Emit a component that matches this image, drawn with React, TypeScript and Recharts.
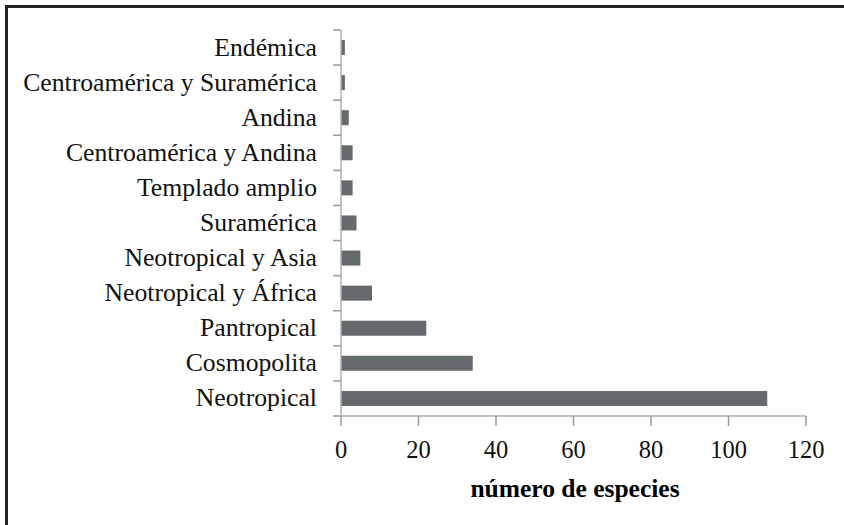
import React from "react";
import { BarChart, Bar, XAxis, YAxis, Label } from "recharts";

const categories = [
  "Endémica",
  "Centroamérica y Suramérica",
  "Andina",
  "Centroamérica y Andina",
  "Templado amplio",
  "Suramérica",
  "Neotropical y Asia",
  "Neotropical y África",
  "Pantropical",
  "Cosmopolita",
  "Neotropical",
];
const especies = [1, 1, 2, 3, 3, 4, 5, 8, 22, 34, 110];
const xTicks = [0, 20, 40, 60, 80, 100, 120];
const xTitle = "número de especies";

const data = categories.map((c, i) => ({ name: c, value: especies[i] }));

const FONT = "Liberation Serif, Times New Roman, serif";
const BAND = 386 / categories.length;

const YTick = (props: any) => {
  const { x, y, payload, index } = props;
  const isLast = index === categories.length - 1;
  return (
    <g>
      <line x1={x - 8} x2={x} y1={y - BAND / 2} y2={y - BAND / 2} stroke="#9a9a9a" strokeWidth={1.5} />
      {isLast && (
        <line x1={x - 8} x2={x} y1={y + BAND / 2} y2={y + BAND / 2} stroke="#9a9a9a" strokeWidth={1.5} />
      )}
      <text x={x - 24} y={y} dy={8} textAnchor="end" fontFamily={FONT} fontSize={25.7} fill="#111">
        {payload.value}
      </text>
    </g>
  );
};

const XTick = (props: any) => {
  const { x, y, payload } = props;
  return (
    <text x={x} y={y} dy={16} textAnchor="middle" fontFamily={FONT} fontSize={24.5} fill="#111">
      {payload.value}
    </text>
  );
};

const XTitle = (props: any) => {
  const { viewBox } = props;
  const cx = viewBox.x + viewBox.width / 2 + 1.5;
  return (
    <text x={cx} y={497} textAnchor="middle" fontFamily={FONT} fontSize={25.5} fontWeight="bold" fill="#000">
      {xTitle}
    </text>
  );
};

export default function App() {
  return (
    <div style={{ position: "absolute", left: 0, top: 0, width: 844, height: 525, background: "#fff" }}>
      <div
        style={{
          position: "absolute",
          left: 5,
          top: 5,
          right: 0,
          bottom: 0,
          borderTop: "3px solid #222",
          borderLeft: "3px solid #222",
        }}
      />
      <div style={{ position: "absolute", left: 0, top: 0 }}>
        <BarChart
          width={844}
          height={525}
          data={data}
          layout="vertical"
          margin={{ top: 30, right: 38, bottom: 27, left: 0 }}
        >
          <XAxis
            type="number"
            domain={[0, 120]}
            ticks={xTicks}
            interval={0}
            height={82}
            tickSize={10}
            tickMargin={16}
            axisLine={{ stroke: "#b0b0b0", strokeWidth: 1.5 }}
            tickLine={{ stroke: "#9a9a9a", strokeWidth: 1.5 }}
            tick={<XTick />}
          >
            <Label content={<XTitle />} position="insideBottom" />
          </XAxis>
          <YAxis
            type="category"
            dataKey="name"
            width={341}
            interval={0}
            tickLine={false}
            tickSize={0}
            tickMargin={0}
            axisLine={{ stroke: "#b0b0b0", strokeWidth: 1.5 }}
            tick={<YTick />}
          />
          <Bar dataKey="value" fill="#656a6d" barSize={15} isAnimationActive={false} />
        </BarChart>
      </div>
    </div>
  );
}
